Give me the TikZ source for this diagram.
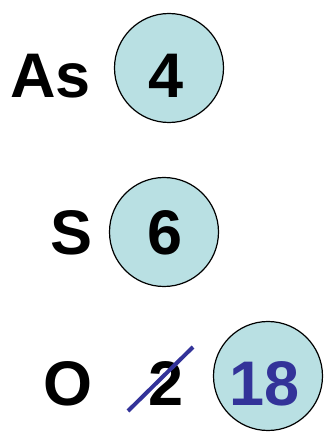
\documentclass[tikz,border=0pt]{standalone}
\usepackage{fontspec}
\setmainfont{Liberation Sans}
\definecolor{shellfill}{RGB}{185,224,227}
\definecolor{shellblue}{RGB}{51,51,153}
\begin{document}
\begin{tikzpicture}[x=1pt,y=1pt,
  shell/.style={circle,draw=black,line width=1.2pt,fill=shellfill,minimum size=109pt,inner sep=0pt},
  big/.style={font=\fontsize{63}{63}\selectfont\bfseries,inner sep=0pt}]
\useasboundingbox (0,0) rectangle (325,432);

\node[shell] (asc) at (169,364) {};
\node[shell] (sc) at (164,200) {};
\node[shell] (oc) at (268,56) {};

\node[big,anchor=base east] (as) at (91,334) {As};
\node[big,anchor=base] (asn) at (166,334) {4};
\node[big,anchor=base east] (s) at (93,177) {S};
\node[big,anchor=base] (sn) at (165,177) {6};
\node[big,anchor=base east] (o) at (93,27) {O};
\node[big,anchor=base west] (two) at (148,27) {2};
\node[big,anchor=base,text=shellblue] (on) at (265,27) {18};

\coordinate (cross1) at (128,21);
\coordinate (cross2) at (193,85);
\draw[shellblue,line width=4pt] (cross1) -- (cross2);
\end{tikzpicture}
\end{document}
